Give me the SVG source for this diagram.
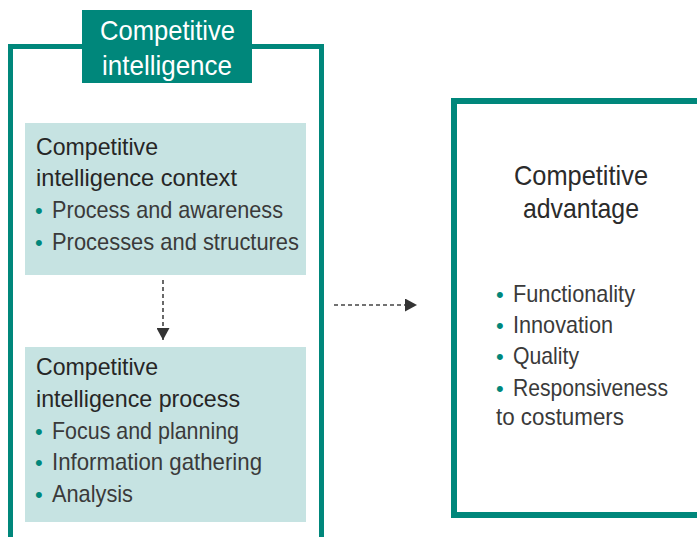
<svg xmlns="http://www.w3.org/2000/svg" width="697" height="537" viewBox="0 0 697 537">
<defs>
<style>
.t{font-family:"Liberation Sans",Arial,sans-serif;font-size:24px;fill:#3a3a3a;}
.h{font-family:"Liberation Sans",Arial,sans-serif;font-size:24px;fill:#262626;}
.big{font-family:"Liberation Sans",Arial,sans-serif;font-size:28px;fill:#2b2b2b;}
.ttl{font-family:"Liberation Sans",Arial,sans-serif;font-size:28px;fill:#ffffff;}
.b{font-family:"Liberation Sans",Arial,sans-serif;font-size:22px;fill:#00877b;}
.frame{fill:none;stroke:#00877b;}
.inner{fill:#c6e3e2;}
.dash{fill:none;stroke:#444;stroke-width:1.6;stroke-dasharray:4 3;}
</style>
<marker id="arr" viewBox="0 0 12 13" refX="12" refY="6.5" markerWidth="12" markerHeight="13" markerUnits="userSpaceOnUse" orient="auto">
<path d="M0,0 L12,6.5 L0,13 Z" fill="#333"/>
</marker>
</defs>
<rect width="697" height="537" fill="#ffffff"/>

<g id="competitive-intelligence">
<path class="frame" stroke-width="5" d="M10.5,545 V46.5 H321.5 V545"/>
<rect x="82" y="10" width="170" height="73" fill="#00877b"/>
<text class="ttl" x="100" y="40" textLength="135" lengthAdjust="spacingAndGlyphs">Competitive</text>
<text class="ttl" x="102" y="75" textLength="130" lengthAdjust="spacingAndGlyphs">intelligence</text>
</g>

<g id="ci-context">
<rect class="inner" x="25" y="123" width="281" height="152"/>
<text class="h" x="36" y="155" textLength="122" lengthAdjust="spacingAndGlyphs">Competitive</text>
<text class="h" x="36" y="186" textLength="201" lengthAdjust="spacingAndGlyphs">intelligence context</text>
<text class="b" x="35" y="218">•</text>
<text class="t" x="52" y="218" textLength="231" lengthAdjust="spacingAndGlyphs">Process and awareness</text>
<text class="b" x="35" y="250">•</text>
<text class="t" x="52" y="250" textLength="247" lengthAdjust="spacingAndGlyphs">Processes and structures</text>
</g>

<g id="ci-process">
<rect class="inner" x="25" y="347" width="281" height="175"/>
<text class="h" x="36" y="375" textLength="122" lengthAdjust="spacingAndGlyphs">Competitive</text>
<text class="h" x="36" y="407" textLength="204" lengthAdjust="spacingAndGlyphs">intelligence process</text>
<text class="b" x="35" y="439">•</text>
<text class="t" x="52" y="439" textLength="187" lengthAdjust="spacingAndGlyphs">Focus and planning</text>
<text class="b" x="35" y="470">•</text>
<text class="t" x="52" y="470" textLength="210" lengthAdjust="spacingAndGlyphs">Information gathering</text>
<text class="b" x="35" y="502">•</text>
<text class="t" x="52" y="502" textLength="81" lengthAdjust="spacingAndGlyphs">Analysis</text>
</g>

<g id="competitive-advantage">
<rect class="frame" stroke-width="6" x="454" y="101" width="270" height="414"/>
<text class="big" x="514" y="185" textLength="134" lengthAdjust="spacingAndGlyphs">Competitive</text>
<text class="big" x="523" y="218" textLength="116" lengthAdjust="spacingAndGlyphs">advantage</text>
<text class="b" x="496" y="302">•</text>
<text class="t" x="513" y="302" textLength="122" lengthAdjust="spacingAndGlyphs">Functionality</text>
<text class="b" x="496" y="333">•</text>
<text class="t" x="513" y="333" textLength="100" lengthAdjust="spacingAndGlyphs">Innovation</text>
<text class="b" x="496" y="364">•</text>
<text class="t" x="513" y="364" textLength="66" lengthAdjust="spacingAndGlyphs">Quality</text>
<text class="b" x="496" y="396">•</text>
<text class="t" x="513" y="396" textLength="155" lengthAdjust="spacingAndGlyphs">Responsiveness</text>
<text class="t" x="496" y="425" textLength="128" lengthAdjust="spacingAndGlyphs">to costumers</text>
</g>

<g id="connectors">
<path class="dash" d="M163,280 V340" marker-end="url(#arr)"/>
<path class="dash" d="M334,305 H417" marker-end="url(#arr)"/>
</g>
</svg>
